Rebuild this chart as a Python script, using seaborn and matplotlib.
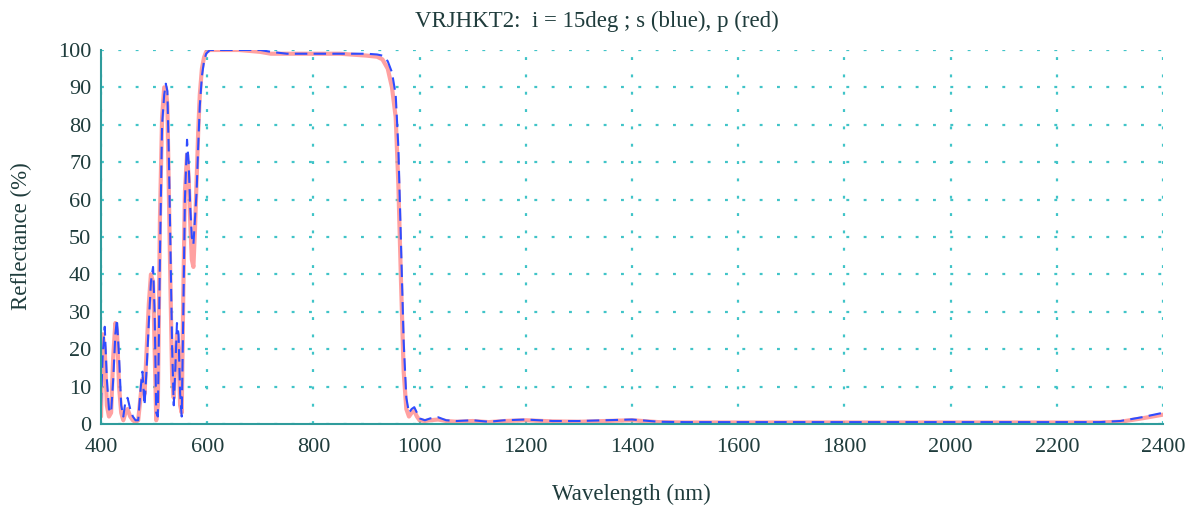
import numpy as np
import pandas as pd
import matplotlib
matplotlib.use("Agg")
import matplotlib.pyplot as plt
import seaborn as sns

# Curvas de refletancia (nm, %)
wavelength = [400, 403, 407, 411, 415, 419, 423, 427, 430, 434, 438, 442, 446, 450,
              455, 460, 465, 470, 475, 478, 482, 486, 490, 494, 498, 501, 504, 507,
              511, 515, 519, 522, 525, 528, 531, 534, 537, 540, 543, 546, 549, 552,
              555, 558, 562, 565, 568, 571, 574, 577, 580, 583, 586, 590, 594, 598,
              605, 615, 630, 660, 700, 720, 750, 800, 850, 900, 920, 930, 940, 948,
              955, 960, 965, 970, 975, 980, 985, 990, 995, 1000, 1010, 1020, 1035,
              1050, 1070, 1100, 1130, 1160, 1200, 1250, 1300, 1350, 1400, 1450, 1500,
              1600, 1700, 1800, 1900, 2000, 2100, 2200, 2280, 2320, 2360, 2400]

refl_s = [5, 18, 26, 12, 4, 3, 12, 24, 28, 18, 5, 2, 6, 7,
          4, 2, 1, 1, 10, 14, 5, 15, 27, 38, 42, 30, 3, 2,
          45, 80, 88, 91, 89, 70, 45, 20, 5, 15, 27, 24, 8, 2,
          30, 60, 76, 70, 58, 50, 48, 55, 62, 74, 85, 93, 97, 99,
          100, 100, 100, 100, 100, 99.5, 99, 99, 99, 99, 98.8, 98.5, 97, 94,
          88, 74, 48, 22, 7, 3, 4, 4.5, 3, 1.5, 1, 1.5, 1.8,
          1, 0.8, 1, 0.6, 1, 1.2, 0.8, 0.8, 1, 1.2, 0.6, 0.5,
          0.5, 0.5, 0.5, 0.5, 0.5, 0.5, 0.5, 0.5, 0.8, 1.8, 3]

refl_p = [2, 24, 20, 5, 2, 3, 18, 27, 25, 10, 3, 1, 3, 4,
          2, 1, 0.5, 1, 8, 12, 8, 20, 32, 40, 38, 20, 1, 5,
          55, 82, 90, 90, 85, 60, 35, 12, 7, 18, 24, 20, 5, 3,
          35, 62, 72, 66, 54, 44, 42, 52, 65, 78, 88, 95, 98, 99.5,
          100, 100, 100, 100, 99.5, 99, 99, 99, 99, 98.5, 98.2, 97.5, 95, 90,
          82, 64, 38, 14, 4, 2, 3, 3.5, 2, 1, 0.8, 1, 1.2,
          0.8, 0.6, 0.8, 0.5, 0.8, 1, 0.7, 0.6, 0.8, 1, 0.5, 0.4,
          0.4, 0.4, 0.4, 0.4, 0.4, 0.4, 0.4, 0.4, 0.6, 1.5, 2.5]

x_ticks = list(range(400, 2401, 200))
y_ticks = list(range(0, 101, 10))

df = pd.DataFrame({"wl": wavelength, "s": refl_s, "p": refl_p})

sns.set_style("white")
plt.rcParams["font.family"] = ["Liberation Serif", "DejaVu Serif"]

text_col = "#1f3c3c"
teal = "#2f9c9c"

fig = plt.figure(figsize=(11.94, 5.07), dpi=100)
ax = fig.add_axes([0.0846, 0.1637, 0.8894, 0.7377])

sns.lineplot(data=df, x="wl", y="p", ax=ax, color="#ff8a8a", lw=3.0, alpha=0.8)
sns.lineplot(data=df, x="wl", y="s", ax=ax, color="#2f4cff", lw=1.5,
             dashes=False, linestyle=(0, (6, 3)))

ax.set_xlim(400, 2400)
ax.set_ylim(0, 100)
ax.set_xticks(x_ticks)
ax.set_yticks(y_ticks)
ax.grid(True, color="#40c4c8", linestyle=(0, (1.3, 6.5)), lw=1.6)
for side in ["top", "right"]:
    ax.spines[side].set_visible(False)
for side in ["left", "bottom"]:
    ax.spines[side].set_color(teal)
    ax.spines[side].set_linewidth(1.5)
ax.tick_params(axis="both", direction="out", length=6, width=1.3, color=teal,
               labelsize=16, labelcolor=text_col, pad=1)
ax.tick_params(axis="x", pad=4)
ax.set_xlabel("")
ax.set_ylabel("")

fig.text(0.5, 0.958, "VRJHKT2:  i = 15deg ; s (blue), p (red)", ha="center", va="center",
         fontsize=16.5, color=text_col)
fig.text(0.529, 0.004, "Wavelength (nm)", ha="center", va="bottom", fontsize=16.5, color=text_col)
fig.text(0.018, 0.535, "Reflectance (%)", ha="center", va="center", rotation=90,
         fontsize=16.5, color=text_col)

fig.savefig("out.png", dpi=100)
